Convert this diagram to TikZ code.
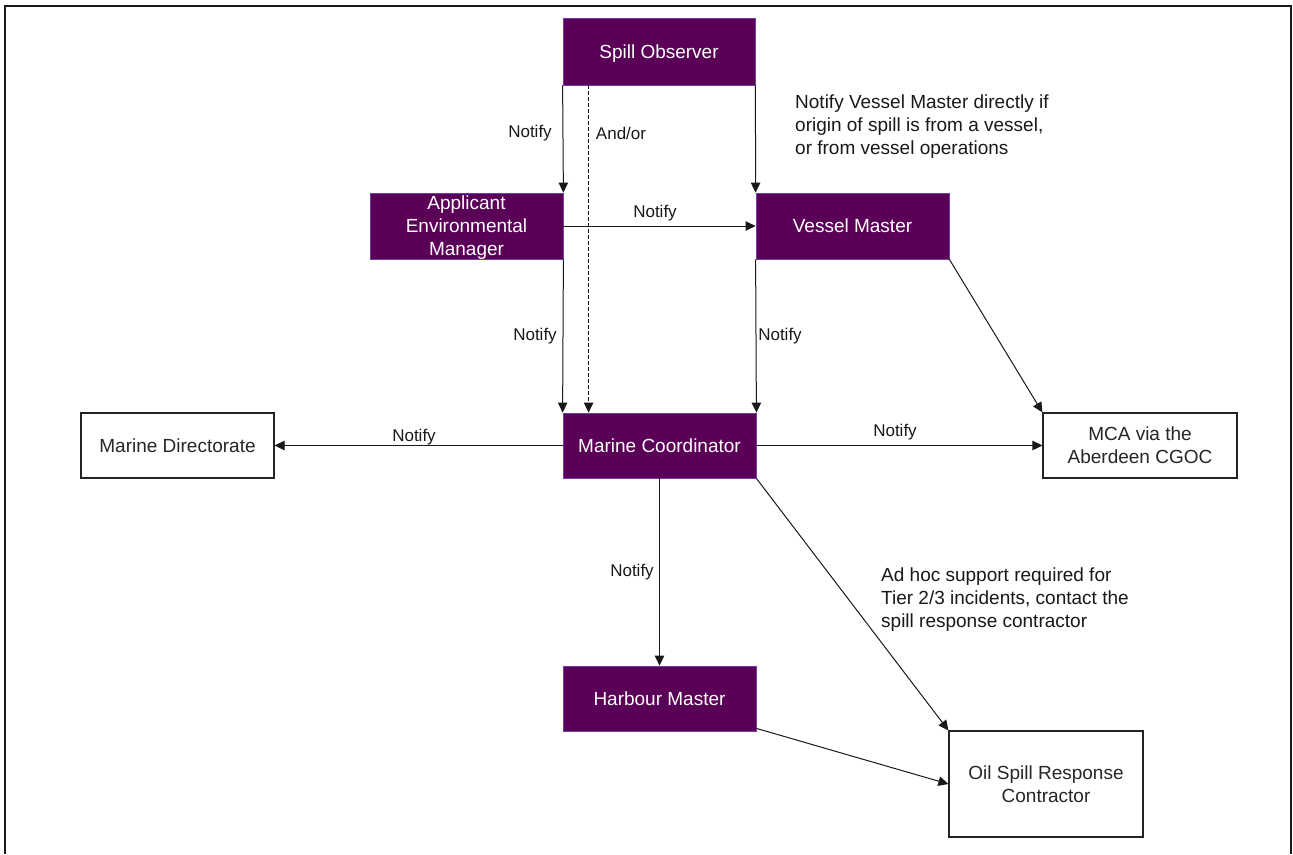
\documentclass[tikz,border=0pt]{standalone}
\usepackage{fontspec}
\setmainfont{Liberation Sans}
\usetikzlibrary{arrows.meta}
\definecolor{plum}{RGB}{91,0,87}
\definecolor{plumedge}{RGB}{112,60,170}
\definecolor{edgegray}{RGB}{35,35,35}
\begin{document}
\begin{tikzpicture}[x=1pt,y=-1pt,
  pbox/.style={rectangle, fill=plum, draw=plumedge, line width=0.8pt, text=white,
    minimum width=193pt, minimum height=66pt, inner sep=0pt, align=center,
    text depth=0pt, font=\fontsize{19}{23}\selectfont},
  wbox/.style={rectangle, fill=white, draw=edgegray, line width=1.2pt, text=black!85,
    minimum width=193pt, minimum height=66pt, inner sep=0pt, align=center,
    text depth=0pt, font=\fontsize{19}{23}\selectfont},
  conn/.style={draw=black!90, line width=1pt, -{Triangle[length=10pt,width=9.5pt]}},
  lbl/.style={font=\fontsize{17}{20}\selectfont, inner sep=0pt, text=black!90},
  note/.style={font=\fontsize{19}{22.7}\selectfont, align=left, inner sep=0pt,
    anchor=north west, text=black!90}
]
\useasboundingbox (0,0) rectangle (1293,854);
\fill[white] (0,0) rectangle (1293,854);
% frame
\draw[line width=2pt, black!90] (5,854) -- (5,6) -- (1291,6) -- (1291,854);

% nodes
\node[pbox, minimum width=192pt, minimum height=67pt] (so) at (659,51.5) {Spill Observer};
\node[pbox] (aem) at (466.5,226) {Applicant\\Environmental\\Manager};
\node[pbox] (vm) at (852.5,226) {Vessel Master};
\node[pbox, minimum height=65pt] (mc) at (659.5,445.5) {Marine Coordinator};
\node[wbox, minimum height=65pt] (md) at (177.5,445.5) {Marine Directorate};
\node[wbox, minimum width=194pt, minimum height=65pt] (mca) at (1140,445.5) {MCA via the\\Aberdeen CGOC};
\node[pbox, minimum height=65pt] (hm) at (659.5,698.5) {Harbour Master};
\node[wbox, minimum width=194pt, minimum height=106pt] (osrc) at (1046,784) {Oil Spill Response\\Contractor};

% connectors
\draw[conn] (so.south west) -- (aem.north east);
\draw[conn, dash pattern=on 4pt off 2pt] ([xshift=26pt]so.south west) -- ([xshift=26pt]mc.north west);
\draw[conn] (so.south east) -- (vm.north west);
\draw[conn] (aem.east) -- (vm.west);
\draw[conn] (aem.south east) -- (mc.north west);
\draw[conn] (vm.south west) -- (mc.north east);
\draw[conn] (mc.west) -- (md.east);
\draw[conn] (mc.east) -- (mca.west);
\draw[conn] (vm.south east) -- (mca.north west);
\draw[conn] (mc.south) -- (hm.north);
\draw[conn] (mc.south east) -- (osrc.north west);
\draw[conn] ([yshift=3pt]hm.south east) -- (osrc.west);

% labels
\node[lbl] (l1) at (530,133) {Notify};
\node[lbl] (l2) at (621,133) {And/or};
\node[lbl] (l3) at (655,213) {Notify};
\node[lbl] (l4) at (535,336) {Notify};
\node[lbl] (l5) at (780,336) {Notify};
\node[lbl] (l6) at (414,437) {Notify};
\node[lbl] (l7) at (895,432) {Notify};
\node[lbl] (l8) at (632,572) {Notify};

\node[note] (n1) at (795,95) {Notify Vessel Master directly if\\origin of spill is from a vessel,\\or from vessel operations};
\node[note] (n2) at (881,568) {Ad hoc support required for\\Tier 2/3 incidents, contact the\\spill response contractor};
\end{tikzpicture}
\end{document}
